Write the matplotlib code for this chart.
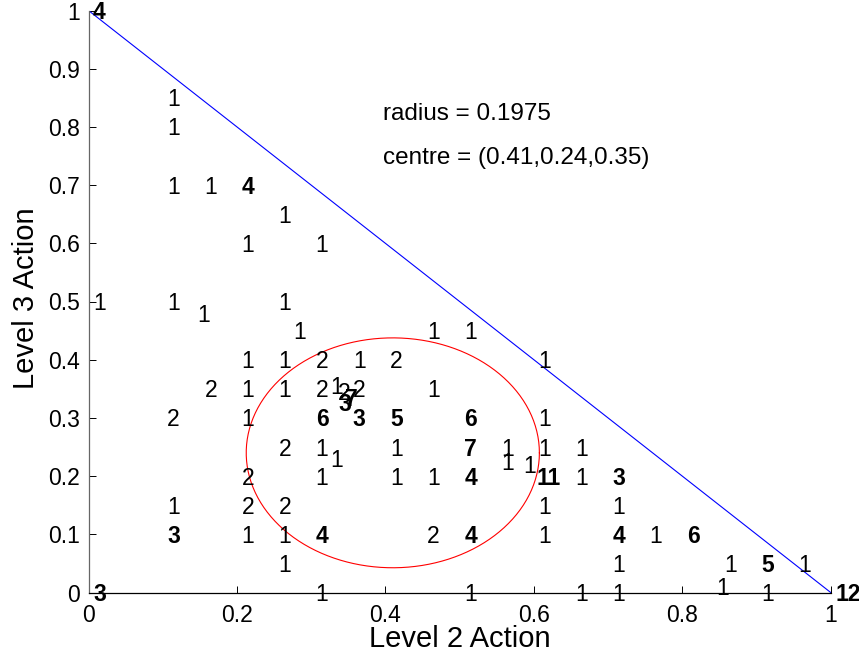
import numpy as np
import matplotlib
matplotlib.use("Agg")
import matplotlib.pyplot as plt
from matplotlib.ticker import FuncFormatter

plt.rcParams['font.family'] = ['Liberation Sans', 'DejaVu Sans']

# --- data: label positions (Level 2 action, Level 3 action) and counts ---
pt_x = [0.00, 0.10, 0.10, 0.10, 0.15, 0.20, 0.25, 0.20, 0.30,
        0.00, 0.10, 0.25, 0.14, 0.27, 0.45, 0.50,
        0.20, 0.25, 0.30, 0.35, 0.40, 0.60,
        0.15, 0.20, 0.25, 0.30, 0.32, 0.35, 0.45, 0.33, 0.33, 0.34,
        0.10, 0.20, 0.30, 0.35, 0.40, 0.50, 0.60,
        0.25, 0.30, 0.40, 0.50, 0.55, 0.60, 0.65, 0.32, 0.55, 0.58,
        0.20, 0.30, 0.40, 0.45, 0.50, 0.598, 0.65, 0.70,
        0.10, 0.20, 0.25, 0.60, 0.70,
        0.10, 0.20, 0.25, 0.30, 0.45, 0.50, 0.60, 0.70, 0.75, 0.80,
        0.25, 0.70, 0.85, 0.90, 0.95, 0.84,
        0.00, 0.30, 0.50, 0.65, 0.70, 0.90, 1.00]
pt_y = [1.00, 0.85, 0.80, 0.70, 0.70, 0.70, 0.65, 0.60, 0.60,
        0.50, 0.50, 0.50, 0.48, 0.45, 0.45, 0.45,
        0.40, 0.40, 0.40, 0.40, 0.40, 0.40,
        0.35, 0.35, 0.35, 0.35, 0.355, 0.35, 0.35, 0.345, 0.327, 0.335,
        0.30, 0.30, 0.30, 0.30, 0.30, 0.30, 0.30,
        0.25, 0.25, 0.25, 0.25, 0.25, 0.25, 0.25, 0.23, 0.225, 0.22,
        0.20, 0.20, 0.20, 0.20, 0.20, 0.20, 0.20, 0.20,
        0.15, 0.15, 0.15, 0.15, 0.15,
        0.10, 0.10, 0.10, 0.10, 0.10, 0.10, 0.10, 0.10, 0.10, 0.10,
        0.05, 0.05, 0.05, 0.05, 0.05, 0.01,
        0.00, 0.00, 0.00, 0.00, 0.00, 0.00, 0.00]
pt_n = [4, 1, 1, 1, 1, 4, 1, 1, 1,
        1, 1, 1, 1, 1, 1, 1,
        1, 1, 2, 1, 2, 1,
        2, 1, 1, 2, 1, 2, 1, 2, 3, 7,
        2, 1, 6, 3, 5, 6, 1,
        2, 1, 1, 7, 1, 1, 1, 1, 1, 1,
        2, 1, 1, 1, 4, 11, 1, 3,
        1, 2, 2, 1, 1,
        3, 1, 1, 4, 2, 4, 1, 4, 1, 6,
        1, 1, 1, 5, 1, 1,
        3, 1, 1, 1, 1, 1, 12]

simplex_x = [0, 1]
simplex_y = [1, 0]

centre = [0.41, 0.24, 0.35]
radius = 0.1975

x_ticks = [0, 0.2, 0.4, 0.6, 0.8, 1]
y_ticks = [0, 0.1, 0.2, 0.3, 0.4, 0.5, 0.6, 0.7, 0.8, 0.9, 1]

# --- figure ---
W, H = 859, 663
fig = plt.figure(figsize=(W / 100, H / 100), dpi=100)
x0, x1 = 88.5, 830.7
y0, y1 = 592.5, 10.5
ax = fig.add_axes([x0 / W, 1 - y0 / H, (x1 - x0) / W, (y0 - y1) / H])

ax.plot(simplex_x, simplex_y, color='#0000ff', lw=0.8)
theta = np.linspace(0, 2 * np.pi, 400)
ax.plot(centre[0] + radius * np.cos(theta), centre[1] + radius * np.sin(theta),
        color='#ff0000', lw=0.8)

for x, y, n in zip(pt_x, pt_y, pt_n):
    ax.annotate(str(n), (x, y), xytext=(3.3, -1.5), textcoords='offset points',
                ha='left', va='center', fontsize=16.5,
                fontweight='bold' if n >= 3 else 'normal', color='black',
                annotation_clip=False)

ax.text(0.397, 0.822, 'radius = %g' % radius, fontsize=17.5, ha='left', va='center')
ax.text(0.397, 0.746, 'centre = (%g,%g,%g)' % tuple(centre), fontsize=17.5,
        ha='left', va='center')

ax.set_xlim(0, 1)
ax.set_ylim(0, 1)
ax.set_xticks(x_ticks)
ax.set_yticks(y_ticks)
fmt = FuncFormatter(lambda v, p: '%g' % v)
ax.xaxis.set_major_formatter(fmt)
ax.yaxis.set_major_formatter(fmt)
ax.tick_params(direction='in', length=5, width=0.7, labelsize=16.5, color='black')
ax.tick_params(axis='x', pad=8)
ax.tick_params(axis='y', pad=6)
for s in ['top', 'right']:
    ax.spines[s].set_visible(False)
ax.spines['left'].set_color('#666666')
ax.spines['bottom'].set_color('black')
ax.spines['left'].set_linewidth(0.9)
ax.spines['bottom'].set_linewidth(0.9)

ax.set_xlabel('Level 2 Action', fontsize=21)
ax.set_ylabel('Level 3 Action', fontsize=21)
ax.xaxis.set_label_coords(0.5, -0.056)
ax.yaxis.set_label_coords(-0.066, 0.506)

fig.savefig('out.png', dpi=100)
